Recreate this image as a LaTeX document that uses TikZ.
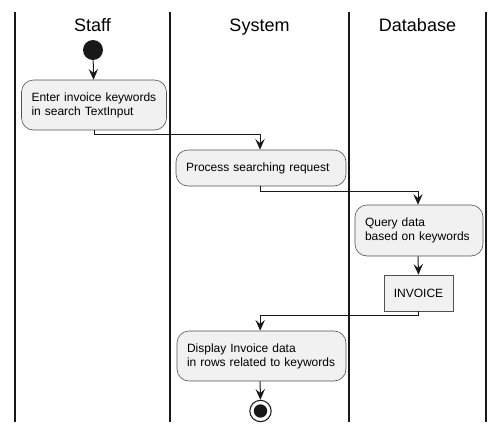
\documentclass[tikz,border=0pt]{standalone}
\usepackage{fontspec}
\setmainfont{Liberation Sans}
\usetikzlibrary{arrows.meta}
\definecolor{boxfill}{HTML}{F1F1F1}
\definecolor{boxline}{HTML}{181818}
\tikzset{
  actbox/.style={draw=boxline!75, fill=boxfill, rounded corners=9pt, line width=0.45pt,
    inner xsep=7.5pt, inner ysep=0pt, align=left, font=\fontsize{9}{10.5}\selectfont},
  databox/.style={draw=boxline!75, fill=boxfill, line width=0.45pt, inner sep=0pt,
    minimum width=51.75pt, minimum height=27pt, font=\fontsize{9}{10.5}\selectfont},
  lanetitle/.style={anchor=base, font=\fontsize{13.5}{16}\selectfont},
  flow/.style={-{Stealth[length=8pt,width=7pt,inset=3pt]}, line width=0.75pt, color=boxline},
  lane/.style={line width=1pt, color=boxline}
}
\begin{document}
\begin{tikzpicture}[x=0.75pt, y=-0.75pt]
\useasboundingbox (0,0) rectangle (504,433);
% Lanes
\draw [lane] (15,12) -- (15,422);
\draw [lane] (170,12) -- (170,422);
\draw [lane] (349,12) -- (349,422);
\draw [lane] (486,12) -- (486,422);
\node [lanetitle] (staff) at (92.5,31) {Staff};
\node [lanetitle] (system) at (259.5,31) {System};
\node [lanetitle] (database) at (417.5,31) {Database};
% Activities
\node [circle, fill=boxline, inner sep=0pt, minimum size=15pt] (start) at (93,50) {};
\node [actbox, text width=93.75pt, minimum height=37.5pt] (enter) at (94,105)
  {Enter invoice keywords\\in search TextInput};
\node [actbox, text width=112.5pt, minimum height=27pt] (process) at (261,168)
  {Process searching request};
\node [actbox, text width=81pt, minimum height=38.25pt] (query) at (419,230.5)
  {Query data\\based on keywords};
\node [databox] (invoice) at (418.5,293) {INVOICE};
\node [actbox, text width=111.75pt, minimum height=37.5pt] (display) at (261.5,356)
  {Display Invoice data\\in rows related to keywords};
\node [circle, draw=boxline, line width=0.8pt, fill=white, inner sep=0pt, minimum size=16pt] (stop) at (260.5,411) {};
\fill [boxline] (stop.center) circle (5pt);
% Flow
\draw [flow] (start) -- (enter);
\draw [flow] (enter.south) -- ++(0,4) -| ([xshift=-0.75pt]process.north);
\draw [flow] ([xshift=-0.75pt]process.south) -- ++(0,5) -| ([xshift=-0.75pt]query.north);
\draw [flow] ([xshift=-0.75pt]query.south) -- (invoice.north);
\draw [flow] (invoice.south) -- ++(0,4) -| ([xshift=-1pt]display.north);
\draw [flow] ([xshift=-1pt]display.south) -- (stop);
\end{tikzpicture}
\end{document}
